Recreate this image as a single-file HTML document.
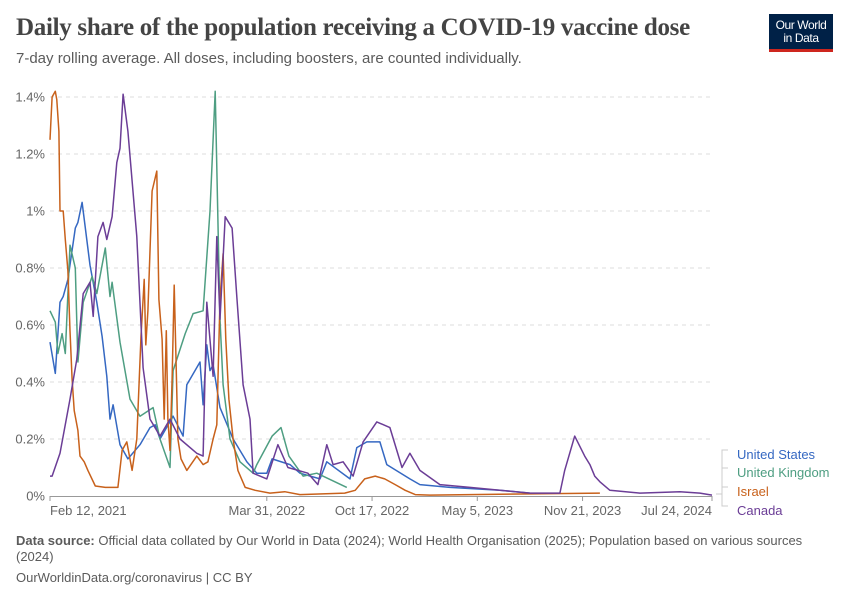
<!DOCTYPE html>
<html><head><meta charset="utf-8"><style>
body{margin:0;background:#fff;font-family:"Liberation Sans",sans-serif;}
#wrap{position:relative;width:850px;height:600px;overflow:hidden;}
.t{position:absolute;white-space:nowrap;}
</style></head><body>
<div id="wrap">
<div class="t" style="left:16px;top:14px;font-family:'Liberation Serif',serif;font-size:25px;font-weight:bold;color:#444;letter-spacing:-0.3px;">Daily share of the population receiving a COVID-19 vaccine dose</div>
<div class="t" style="left:16px;top:50px;font-size:15px;color:#5b5b5b;">7-day rolling average. All doses, including boosters, are counted individually.</div>
<div style="position:absolute;left:769px;top:14px;width:64px;height:38px;background:#002147;border-bottom:3px solid #ce261e;box-sizing:border-box;color:#fff;font-size:12px;line-height:13px;text-align:center;padding-top:5px;letter-spacing:-0.4px;">Our World<br>in Data</div>
<svg id="chart" width="850" height="600" style="position:absolute;left:0;top:0"></svg>
<div class="t" style="left:16px;top:533px;font-size:13px;color:#5b5b5b;line-height:16px;white-space:normal;width:800px;"><b>Data source:</b> Official data collated by Our World in Data (2024); World Health Organisation (2025); Population based on various sources (2024)</div>
<div class="t" style="left:16px;top:570px;font-size:13px;color:#5b5b5b;">OurWorldinData.org/coronavirus | CC BY</div>
</div>
<script>
const xTickLabels=["Feb 12, 2021","Mar 31, 2022","Oct 17, 2022","May 5, 2023","Nov 21, 2023","Jul 24, 2024"];
const xTickDays=[0,412,612,812,1012,1258];
const yTicks=[0,0.2,0.4,0.6,0.8,1,1.2,1.4];
const yTickLabels=["0%","0.2%","0.4%","0.6%","0.8%","1%","1.2%","1.4%"];
const seriesNames=["United States","United Kingdom","Israel","Canada"];
const usDays=[0,10,19,25,34,48,53,61,76,89,99,108,114,120,133,148,171,190,200,209,234,253,260,285,291,298,304,310,323,348,374,393,412,422,456,475,513,526,570,583,602,627,640,684,703,760,855,912];
const usVals=[.54,.43,.68,.70,.76,.94,.96,1.03,.81,.68,.56,.42,.27,.32,.18,.13,.18,.24,.25,.20,.28,.21,.39,.47,.32,.53,.44,.46,.31,.20,.12,.08,.08,.13,.11,.08,.06,.12,.06,.17,.19,.19,.11,.06,.04,.03,.02,.01];
const ukDays=[0,10,15,23,29,38,48,53,63,80,89,105,114,118,133,152,171,196,209,228,234,257,272,291,304,314,323,329,342,361,386,393,422,439,454,481,507,564];
const ukVals=[.65,.61,.50,.57,.50,.88,.80,.47,.68,.77,.71,.87,.70,.75,.54,.34,.28,.31,.20,.10,.44,.57,.64,.65,1.0,1.42,.62,.39,.20,.12,.08,.11,.21,.24,.14,.07,.08,.03];
const ilDays=[0,4,10,13,17,19,25,29,34,38,42,46,49,53,57,65,72,86,105,129,137,146,156,165,173,179,182,186,194,203,207,213,217,221,224,228,232,236,239,243,249,260,279,291,300,310,317,323,329,334,340,348,357,371,390,418,446,475,560,580,598,618,636,656,675,694,722,1045];
const ilVals=[1.25,1.40,1.42,1.39,1.28,1.0,1.0,.90,.79,.58,.41,.30,.27,.23,.14,.12,.09,.035,.03,.03,.16,.19,.09,.20,.56,.76,.53,.65,1.07,1.14,.69,.55,.27,.58,.27,.16,.41,.74,.51,.20,.13,.09,.14,.11,.12,.20,.25,.69,.85,.55,.34,.20,.09,.03,.02,.01,.015,.005,.01,.02,.06,.07,.06,.04,.02,.005,.003,.01];
const caDays=[0,4,19,38,51,63,76,82,91,101,108,118,127,133,139,148,165,177,190,209,228,247,279,291,298,310,317,323,333,346,355,367,380,386,412,433,452,490,509,526,538,557,576,595,621,646,669,684,703,741,798,855,912,969,978,997,1016,1026,1035,1045,1064,1121,1197,1235,1258];
const caVals=[.07,.07,.15,.34,.48,.71,.75,.63,.91,.96,.90,.98,1.17,1.22,1.41,1.28,.91,.45,.27,.21,.27,.20,.15,.14,.68,.42,.91,.62,.98,.94,.70,.39,.27,.08,.06,.18,.10,.08,.04,.18,.11,.12,.07,.19,.26,.24,.10,.15,.09,.04,.03,.02,.01,.01,.09,.21,.14,.11,.07,.05,.02,.01,.015,.01,.003];
const colors=["#3568c2","#4e9e82","#c8611b","#6b3d96"];
const X0=50,X1=712,Y0=496,Y1=97,DMAX=1258,VMAX=1.4;
const xS=d=>X0+(X1-X0)*d/DMAX, yS=v=>Y0-(Y0-Y1)*v/VMAX;
const svg=document.getElementById('chart');const NS="http://www.w3.org/2000/svg";
function mk(tag,a){const e=document.createElementNS(NS,tag);for(const k in a)e.setAttribute(k,a[k]);svg.appendChild(e);return e;}
yTicks.forEach((v,i)=>{
 if(i>0){const g=mk('line',{x1:X0,x2:X1,y1:yS(v),y2:yS(v),stroke:'#ddd','stroke-dasharray':'4,4'});
 
 }
 const t=mk('text',{x:45,y:yS(v)+4.5,'text-anchor':'end','font-size':13,fill:'#666','font-family':'Liberation Sans, sans-serif'});t.textContent=yTickLabels[i];
 
 
});
const ax=mk('line',{x1:X0,x2:X1,y1:Y0+0.5,y2:Y0+0.5,stroke:'#999'});


xTickDays.forEach((d,i)=>{
 const x=xS(d);
 const tk=mk('line',{x1:x,x2:x,y1:Y0,y2:Y0+5,stroke:'#999'});
 
 
 const anchor=i==0?'start':(i==xTickDays.length-1?'end':'middle');
 const t=mk('text',{x:x,y:Y0+19,'text-anchor':anchor,'font-size':13,fill:'#666','font-family':'Liberation Sans, sans-serif'});t.textContent=xTickLabels[i];
 
 
});
const allD=[usDays,ukDays,ilDays,caDays],allV=[usVals,ukVals,ilVals,caVals];
allD.forEach((ds,s)=>{
 const vs=allV[s];
 const pts=ds.map((d,i)=>xS(d).toFixed(1)+','+yS(vs[i]).toFixed(1)).join(' ');
 const p=mk('polyline',{points:pts,fill:'none',stroke:colors[s],'stroke-width':1.5,'stroke-linejoin':'round'});
 
 
});
const labY=[455,473,492,511];
seriesNames.forEach((n,i)=>{
 const c=mk('path',{d:`M716 494 H722 V${labY[i]-5} H728`,fill:'none',stroke:'#ccc','stroke-width':1});
 
 
 const t=mk('text',{x:737,y:labY[i]+4,'font-size':13,fill:colors[i],'font-family':'Liberation Sans, sans-serif'});t.textContent=n;
 
 
});
</script>
</body></html>
